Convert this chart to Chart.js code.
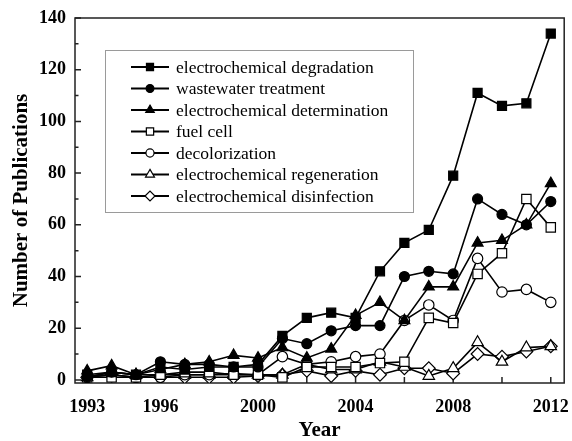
<!DOCTYPE html>
<html>
<head>
<meta charset="utf-8">
<script src="https://cdn.jsdelivr.net/npm/chart.js@4.4.0/dist/chart.umd.min.js"></script>
<style>
  html, body { margin: 0; padding: 0; background: #fff; }
</style>
</head>
<body>
<canvas id="pubChart" width="572" height="441"></canvas>
<script>
var years = [1993, 1994, 1995, 1996, 1997, 1998, 1999, 2000, 2001, 2002,
             2003, 2004, 2005, 2006, 2007, 2008, 2009, 2010, 2011, 2012];

var degradation   = [2, 3, 2, 5, 4, 5, 5, 6, 17, 24, 26, 24, 42, 53, 58, 79, 111, 106, 107, 134];
var wastewater    = [1, 3, 2, 7, 6, 6, 5, 5, 16, 14, 19, 21, 21, 40, 42, 41, 70, 64, 60, 69];
var determination = [3.5, 5.5, 2, 4, 6, 7, 9.5, 8.5, 12.5, 8.5, 12, 25, 30, 23, 36, 36, 53, 54, 60, 76];
var fuelCell      = [1, 1, 1, 2, 3, 3, 2, 2, 1, 5, 5, 5, 6.5, 7, 24, 22, 41, 49, 70, 59];
var decolorization = [1, 2, 1, 1, 2, 2, 2.5, 2, 9, 6, 7, 9, 10, 23, 29, 23, 47, 34, 35, 30];
var regeneration  = [1, 3, 2, 2, 2, 2, 2, 2, 2, 6, 4, 4, 7, 5, 1.5, 4.5, 14.5, 7, 12.5, 13];
var disinfection  = [1, 2, 1, 1, 1, 1, 1, 1.5, 2, 3.5, 1.5, 3.5, 2, 4.5, 4.5, 2.5, 10, 9, 11, 13];

var seriesNames = ['electrochemical degradation', 'wastewater treatment',
  'electrochemical determination', 'fuel cell', 'decolorization',
  'electrochemical regeneration', 'electrochemical disinfection'];

var xTickValues = [1993, 1994, 1996, 1998, 2000, 2002, 2004, 2006, 2008, 2010, 2012];
var xLabelValues = [1993, 1996, 2000, 2004, 2008, 2012];
var yTickValues = [0, 10, 20, 30, 40, 50, 60, 70, 80, 90, 100, 110, 120, 130, 140];
var yLabelValues = [0, 20, 40, 60, 80, 100, 120, 140];

function points(vals) {
  return years.map(function (yr, i) { return { x: yr, y: vals[i] }; });
}

function makeSet(label, vals, style, radius, fill) {
  return {
    label: label,
    data: points(vals),
    borderColor: '#000',
    borderWidth: 1.6,
    pointStyle: style,
    pointRadius: radius,
    pointBackgroundColor: fill,
    pointBorderColor: '#000',
    pointBorderWidth: 1.2,
    tension: 0,
    legendRadius: radius * 0.78
  };
}

var serif = "'Liberation Serif', 'DejaVu Serif', serif";

function drawMarker(ctx, style, x, y, r, fill) {
  ctx.beginPath();
  if (style === 'rect') {
    var s = r * Math.SQRT1_2;
    ctx.rect(x - s, y - s, 2 * s, 2 * s);
  } else if (style === 'circle') {
    ctx.arc(x, y, r, 0, Math.PI * 2);
  } else if (style === 'triangle') {
    ctx.moveTo(x, y - r);
    ctx.lineTo(x + r * Math.sin(Math.PI * 2 / 3), y - r * Math.cos(Math.PI * 2 / 3));
    ctx.lineTo(x + r * Math.sin(Math.PI * 4 / 3), y - r * Math.cos(Math.PI * 4 / 3));
    ctx.closePath();
  } else {
    ctx.moveTo(x - r, y);
    ctx.lineTo(x, y - r);
    ctx.lineTo(x + r, y);
    ctx.lineTo(x, y + r);
    ctx.closePath();
  }
  ctx.fillStyle = fill;
  ctx.fill();
  ctx.lineWidth = 1.2;
  ctx.strokeStyle = '#000';
  ctx.stroke();
}

// frame + inward tick marks
var frameTicks = {
  id: 'frameTicks',
  beforeDatasetsDraw: function (chart) {
    var ctx = chart.ctx, a = chart.chartArea;
    var xs = chart.scales.x, ys = chart.scales.y;
    ctx.save();
    ctx.strokeStyle = '#222';
    ctx.lineWidth = 1.5;
    ctx.strokeRect(a.left, a.top, a.right - a.left, a.bottom - a.top);
    ctx.beginPath();
    xTickValues.forEach(function (v) {
      var px = xs.getPixelForValue(v);
      ctx.moveTo(px, a.bottom);
      ctx.lineTo(px, a.bottom - 6);
    });
    yTickValues.forEach(function (v) {
      var py = ys.getPixelForValue(v);
      var len = yLabelValues.indexOf(v) >= 0 ? 6 : 3.5;
      ctx.moveTo(a.left, py);
      ctx.lineTo(a.left + len, py);
    });
    ctx.stroke();
    ctx.restore();
  }
};

// boxed legend inside plot
var boxLegend = {
  id: 'boxLegend',
  afterDraw: function (chart) {
    var ctx = chart.ctx;
    ctx.save();
    ctx.strokeStyle = '#9a9a9a';
    ctx.lineWidth = 1;
    ctx.fillStyle = '#fff';
    ctx.fillRect(105.5, 50.5, 308, 162);
    ctx.strokeRect(105.5, 50.5, 308, 162);
    chart.data.datasets.forEach(function (ds, i) {
      var y = 67 + i * 21.5;
      ctx.beginPath();
      ctx.moveTo(131, y);
      ctx.lineTo(169, y);
      ctx.strokeStyle = '#000';
      ctx.lineWidth = 2;
      ctx.stroke();
      drawMarker(ctx, ds.pointStyle, 150, y, ds.legendRadius, ds.pointBackgroundColor);
      ctx.fillStyle = '#000';
      ctx.font = '17.5px ' + serif;
      ctx.textBaseline = 'middle';
      ctx.textAlign = 'left';
      ctx.fillText(ds.label, 176, y + 1);
    });
    ctx.restore();
  }
};

var ctx = document.getElementById('pubChart').getContext('2d');
var chart = new Chart(ctx, {
  type: 'line',
  data: {
    datasets: [
      makeSet(seriesNames[0], degradation, 'rect', 6.4, '#000'),
      makeSet(seriesNames[1], wastewater, 'circle', 5, '#000'),
      makeSet(seriesNames[2], determination, 'triangle', 6.3, '#000'),
      makeSet(seriesNames[3], fuelCell, 'rect', 6.6, '#fff'),
      makeSet(seriesNames[4], decolorization, 'circle', 5.2, '#fff'),
      makeSet(seriesNames[5], regeneration, 'triangle', 6.6, '#fff'),
      makeSet(seriesNames[6], disinfection, 'rectRot', 6.4, '#fff')
    ]
  },
  options: {
    responsive: false,
    devicePixelRatio: 1,
    animation: false,
    layout: { padding: { top: 18, right: 4, left: 0, bottom: 0 } },
    plugins: { legend: { display: false }, tooltip: { enabled: false } },
    scales: {
      x: {
        type: 'linear',
        min: 1992.5,
        max: 2012.55,
        afterBuildTicks: function (axis) {
          axis.ticks = xTickValues.map(function (v) { return { value: v }; });
        },
        afterFit: function (scale) {
          scale.height = 58;
          scale.paddingLeft = 0;
          scale.paddingRight = 0;
        },
        grid: { display: false, drawTicks: false },
        border: { display: false },
        ticks: {
          autoSkip: false,
          maxRotation: 0,
          padding: 14,
          color: '#000',
          font: { family: serif, size: 18, weight: 'bold' },
          callback: function (v) { return xLabelValues.indexOf(v) >= 0 ? String(v) : ''; }
        },
        title: {
          display: true,
          text: 'Year',
          color: '#000',
          font: { family: serif, size: 21, weight: 'bold', lineHeight: 1 },
          padding: { top: 0, bottom: 0 }
        }
      },
      y: {
        min: -1.2,
        max: 140,
        afterBuildTicks: function (axis) {
          axis.ticks = yTickValues.map(function (v) { return { value: v }; });
        },
        afterFit: function (scale) {
          scale.width = 75;
          scale.paddingTop = 0;
          scale.paddingBottom = 0;
        },
        grid: { display: false, drawTicks: false },
        border: { display: false },
        ticks: {
          padding: 9,
          color: '#000',
          font: { family: serif, size: 18, weight: 'bold' },
          callback: function (v) { return yLabelValues.indexOf(v) >= 0 ? String(v) : ''; }
        },
        title: {
          display: true,
          text: 'Number of Publications',
          color: '#000',
          font: { family: serif, size: 21, weight: 'bold', lineHeight: 1 },
          padding: { top: 11, bottom: 0 }
        }
      }
    }
  },
  plugins: [frameTicks, boxLegend]
});
</script>
</body>
</html>
